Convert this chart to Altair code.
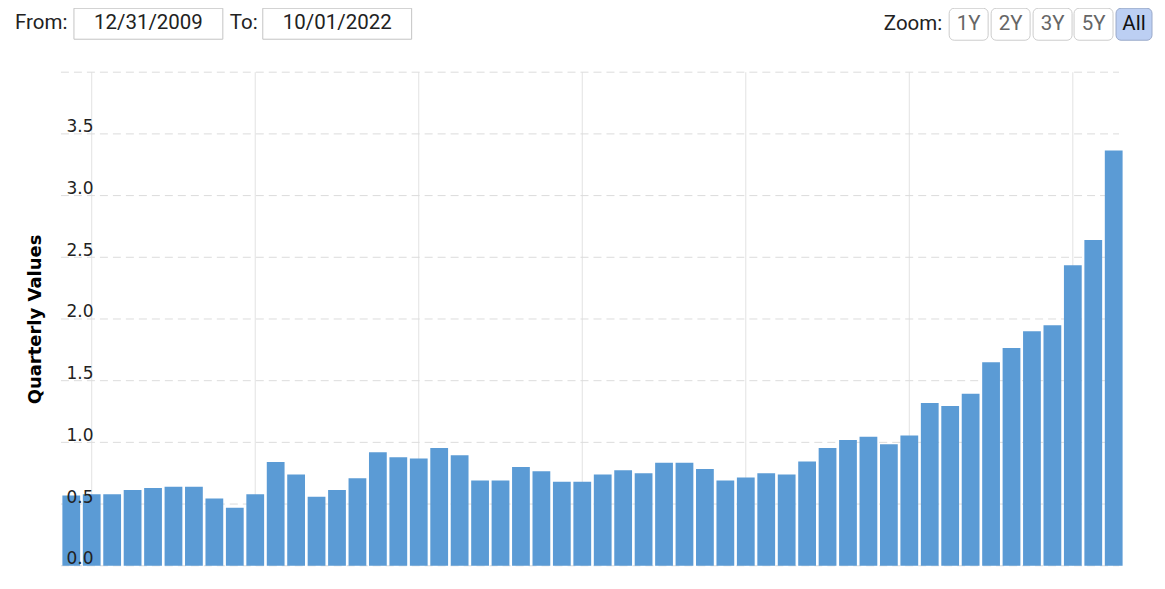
import altair as alt
import pandas as pd

# ---------------- data ----------------
quarters = ["2009-12-31"] + [
    f"{y}-{md}" for y in range(2010, 2023) for md in ("03-31", "06-30", "09-30", "12-31")
][:51]

values = [
    0.57, 0.58, 0.58, 0.615, 0.63, 0.64, 0.64, 0.545, 0.47, 0.58,
    0.84, 0.74, 0.56, 0.615, 0.71, 0.92, 0.88, 0.87, 0.955, 0.895,
    0.69, 0.69, 0.80, 0.765, 0.68, 0.68, 0.74, 0.775, 0.75, 0.835,
    0.835, 0.785, 0.69, 0.715, 0.75, 0.74, 0.845, 0.955, 1.02, 1.045,
    0.985, 1.055, 1.32, 1.295, 1.395, 1.65, 1.765, 1.90, 1.95, 2.435,
    2.64, 3.365,
]

y_ticks = [0.0, 0.5, 1.0, 1.5, 2.0, 2.5, 3.0, 3.5, 4.0]
x_grid_quarters = [quarters[i] for i in (1, 9, 17, 25, 33, 41, 49)]

from_date = "12/31/2009"
to_date = "10/01/2022"
zoom_buttons = ["1Y", "2Y", "3Y", "5Y", "All"]

# ---------------- layout ----------------
W, H = 1064, 494
PAD = {"left": 53, "top": 64, "right": 33, "bottom": 15}
OX, OY = 8 + PAD["left"], 8 + PAD["top"]  # page position of plot origin

def px(x):
    return x - OX

def py(y):
    return y - OY

df = pd.DataFrame({"quarter": quarters, "value": values})
df_hgrid = pd.DataFrame({"value": y_ticks})
df_vgrid = pd.DataFrame({"quarter": x_grid_quarters})
one = pd.DataFrame({"k": [0]})

xscale = alt.Scale(domain=quarters, paddingInner=0.13, paddingOuter=0.07)
yscale = alt.Scale(domain=[0, 4], nice=False, zero=True)

yaxis = alt.Axis(
    values=y_ticks,
    labelExpr="datum.value >= 4 ? '' : format(datum.value, '.1f')",
    grid=False, ticks=False, tickSize=0, domain=False,
    labelAlign="left", labelPadding=-5, labelBaseline="alphabetic", labelOffset=-2,
    labelFont="DejaVu Sans", labelFontSize=17, labelColor="#222222", labelFlush=False,
    zindex=1,
    title="Quarterly Values", titleFont="DejaVu Sans", titleFontSize=18,
    titleFontWeight="bold", titleColor="#000000", titleX=-25, titleY=H / 2,
    titleAngle=270, titleAlign="center", titleBaseline="middle",
)

vgrid = alt.Chart(df_vgrid).mark_rule(color="#e2e2e2", strokeWidth=1).encode(
    x=alt.X("quarter:N", scale=xscale, axis=None),
    y=alt.value(0), y2=alt.value(H),
)

hgrid = alt.Chart(df_hgrid).mark_rule(color="#dcdcdc", strokeWidth=1, strokeDash=[8, 5]).encode(
    y=alt.Y("value:Q", scale=yscale, axis=yaxis),
    x=alt.value(0), x2=alt.value(W - 5),
)

bars = alt.Chart(df).mark_bar(color="#5b9bd5").encode(
    x=alt.X("quarter:N", scale=xscale, axis=None),
    y=alt.Y("value:Q", scale=yscale, axis=yaxis),
)

# ---------------- header controls ----------------
header = []

def text_layer(txt, x, y, align="left", color="#222222", size=20.5, weight="normal"):
    return alt.Chart(one).mark_text(
        text=txt, align=align, baseline="middle", font="Roboto",
        fontSize=size, color=color, fontWeight=weight,
    ).encode(x=alt.value(px(x)), y=alt.value(py(y)))

def rect_layer(x1, x2, y1, y2, fill="#ffffff", stroke="#c4c4c4", radius=0):
    return alt.Chart(one).mark_rect(
        fill=fill, stroke=stroke, strokeWidth=1, cornerRadius=radius,
    ).encode(x=alt.value(px(x1)), x2=alt.value(px(x2)),
             y=alt.value(py(y1)), y2=alt.value(py(y2)))

header.append(text_layer("From:", 15, 23))
header.append(rect_layer(74, 223, 8, 39))
header.append(text_layer(from_date, 148.5, 23, align="center"))
header.append(text_layer("To:", 230, 23))
header.append(rect_layer(263, 412, 8, 39))
header.append(text_layer(to_date, 337.5, 23, align="center"))
header.append(text_layer("Zoom:", 943, 24, align="right"))

btn_x = [(950, 989), (992, 1031), (1034, 1073), (1075, 1114), (1117, 1153)]
for label, (a, b) in zip(zoom_buttons, btn_x):
    active = label == "All"
    header.append(rect_layer(a, b, 8, 40,
                             fill="#bccff3" if active else "#ffffff",
                             stroke="#9aa9c9" if active else "#cccccc", radius=5))
    header.append(text_layer(label, (a + b) / 2, 24, align="center",
                             color="#111111" if active else "#666666"))

chart = alt.layer(vgrid, hgrid, bars, *header).properties(
    width=W, height=H,
    autosize=alt.AutoSizeParams(type="none"),
    padding=PAD,
).configure_view(strokeWidth=0)

chart.save("out.html", embed_options={"renderer": "svg", "actions": False})
